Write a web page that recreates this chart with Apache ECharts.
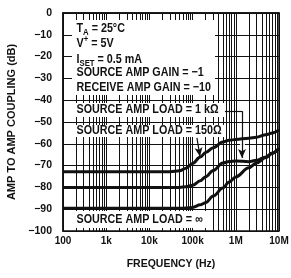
<!DOCTYPE html>
<html>
<head>
<meta charset="utf-8">
<script src="https://cdn.jsdelivr.net/npm/echarts@6.0.0/dist/echarts.min.js"></script>
<style>
  html, body { margin: 0; padding: 0; background: #fff; }
  #chart { width: 291px; height: 278px; }
</style>
</head>
<body>
<div id="chart"></div>
<script>
// frequency points (Hz) shared by the three curves
const freq = [100, 1e3, 1e4, 3e4, 5e4, 7e4, 1e5, 1.5e5, 2e5, 3e5, 5e5, 7e5, 1e6, 2e6, 3e6, 5e6, 7e6, 1e7]
// coupling (dB) for each source amp load
const load150 = [-72.8, -72.8, -72.8, -72.8, -72.4, -71.2, -69, -66.1, -64, -61.8, -59.2, -58.4, -58, -57.4, -57, -55.8, -55, -53.7]
const load1k = [-80, -80, -80, -80, -80, -79.7, -79, -77, -75.1, -72.2, -68.8, -68.1, -67.9, -68.2, -67.6, -66, -64.2, -62]
const loadInf = [-89.6, -89.6, -89.6, -89.6, -89.6, -89.5, -89.2, -88, -87, -84, -80.3, -77.5, -75.2, -71, -68.8, -66.3, -64.3, -62]

const xTickLabels = ['100', '1k', '10k', '100k', '1M', '10M']
const decades = [100, 1e3, 1e4, 1e5, 1e6]
const minorSteps = [2, 3, 4, 5, 6, 7, 8, 9]

// arrows: [from, to] in (Hz, dB)
const arrow1kH = [[5.6e5, -45], [1.39e6, -45]]
const arrow1kV = [[1.39e6, -45], [1.39e6, -66.5]]
const arrow1kGap = [[1.39e6, -55], [1.39e6, -60.5]]
const arrow150 = [[1.26e5, -57.3], [1.48e5, -65.8]]

const FONT = '"Liberation Sans", Arial, sans-serif'

const minorLines = []
decades.forEach(d => minorSteps.forEach(k => minorLines.push({ xAxis: k * d })))

function curve(data) {
  return {
    type: 'line',
    data: freq.map((f, i) => [f, data[i]]),
    smooth: 0.35,
    smoothMonotone: 'x',
    showSymbol: false,
    silent: true,
    z: 5,
    lineStyle: { color: '#111', width: 3 }
  }
}

function seg(pts, arrow) {
  return [
    { coord: pts[0], symbol: 'none' },
    { coord: pts[1], symbol: arrow ? 'arrow' : 'none' }
  ]
}

function label(text, y) {
  return {
    type: 'text', x: 76.5, y: y, scaleX: 0.86, z: 20, silent: true,
    style: {
      text: text,
      verticalAlign: 'middle',
      fill: '#111',
      font: 'bold 12.5px ' + FONT,
      rich: {
        a: { fontSize: 12.5, fontWeight: 'bold', fontFamily: FONT, fill: '#111' },
        sub: { fontSize: 9, fontWeight: 'bold', fontFamily: FONT, fill: '#111', padding: [7, 0, 0, 0] },
        sup: { fontSize: 9, fontWeight: 'bold', fontFamily: FONT, fill: '#111', padding: [0, 0, 7, 0] }
      }
    }
  }
}

function box(x, y, w, h) {
  return { type: 'rect', shape: { x: x, y: y, width: w, height: h }, style: { fill: '#fff' }, z: 15, silent: true }
}

const chart = echarts.init(document.getElementById('chart'), null, { renderer: 'canvas' })
chart.setOption({
  animation: false,
  backgroundColor: '#fff',
  grid: {
    left: 63, top: 13, right: 12, bottom: 47,
    containLabel: false, outerBoundsMode: 'none',
    show: true, borderColor: '#111', borderWidth: 1.5, z: 30
  },
  xAxis: {
    type: 'log', logBase: 10, min: 100, max: 1e7,
    name: 'FREQUENCY (Hz)', nameLocation: 'middle', nameGap: 28,
    nameTextStyle: { fontFamily: FONT, fontWeight: 'bold', fontSize: 10.5, color: '#111' },
    axisLine: { lineStyle: { color: '#111', width: 1.5 } },
    axisTick: { show: false },
    axisLabel: {
      fontFamily: FONT, fontWeight: 'bold', fontSize: 10, color: '#111', margin: 5,
      formatter: v => xTickLabels[Math.round(Math.log10(v)) - 2]
    },
    splitLine: { show: true, lineStyle: { color: '#111', width: 1 } }
  },
  yAxis: {
    type: 'value', min: -100, max: 0, interval: 10,
    name: 'AMP TO AMP COUPLING (dB)', nameLocation: 'middle', nameGap: 44,
    nameTextStyle: { fontFamily: FONT, fontWeight: 'bold', fontSize: 11, color: '#111' },
    axisLine: { show: true, lineStyle: { color: '#111', width: 1.5 } },
    axisTick: { show: false },
    axisLabel: {
      fontFamily: FONT, fontWeight: 'bold', fontSize: 10.5, color: '#111', margin: 11,
      formatter: v => (v === 0 ? '0' : '\u2212' + Math.abs(v))
    },
    splitLine: { show: true, lineStyle: { color: '#111', width: 1 } }
  },
  series: [
    {
      type: 'line', data: [], silent: true, z: 1,
      markLine: {
        silent: true, symbol: 'none', animation: false,
        label: { show: false },
        lineStyle: { color: '#111', width: 1, type: 'solid' },
        data: minorLines
      }
    },
    curve(load150),
    curve(load1k),
    curve(loadInf),
    {
      type: 'line', data: [], silent: true, z: 8,
      markLine: {
        silent: true, animation: false, symbolSize: [6, 9],
        label: { show: false },
        lineStyle: { color: '#fff', width: 5, type: 'solid' },
        data: [seg(arrow1kGap, false)]
      }
    },
    {
      type: 'line', data: [], silent: true, z: 9,
      markLine: {
        silent: true, animation: false, symbolSize: [6, 9],
        label: { show: false },
        lineStyle: { color: '#111', width: 1.2, type: 'solid' },
        data: [seg(arrow1kH, false), seg(arrow1kV, true), seg(arrow150, true)]
      }
    }
  ],
  graphic: [
    box(72, 20, 143, 75),
    box(72, 103, 152, 14),
    box(72, 125, 154, 12),
    box(64, 211, 142, 17),
    label('{a|T}{sub|A}{a| = 25\u00b0C}', 29),
    label('{a|V}{sup|+}{a| = 5V}', 43.5),
    label('{a|I}{sub|SET}{a| = 0.5 mA}', 60),
    label('{a|SOURCE AMP GAIN = \u22121}', 73),
    label('{a|RECEIVE AMP GAIN = \u221210}', 88),
    label('{a|SOURCE AMP LOAD = 1 k\u03a9}', 109.5),
    label('{a|SOURCE AMP LOAD = 150\u03a9}', 131),
    label('{a|SOURCE AMP LOAD = \u221e}', 220)
  ]
})
</script>
</body>
</html>
